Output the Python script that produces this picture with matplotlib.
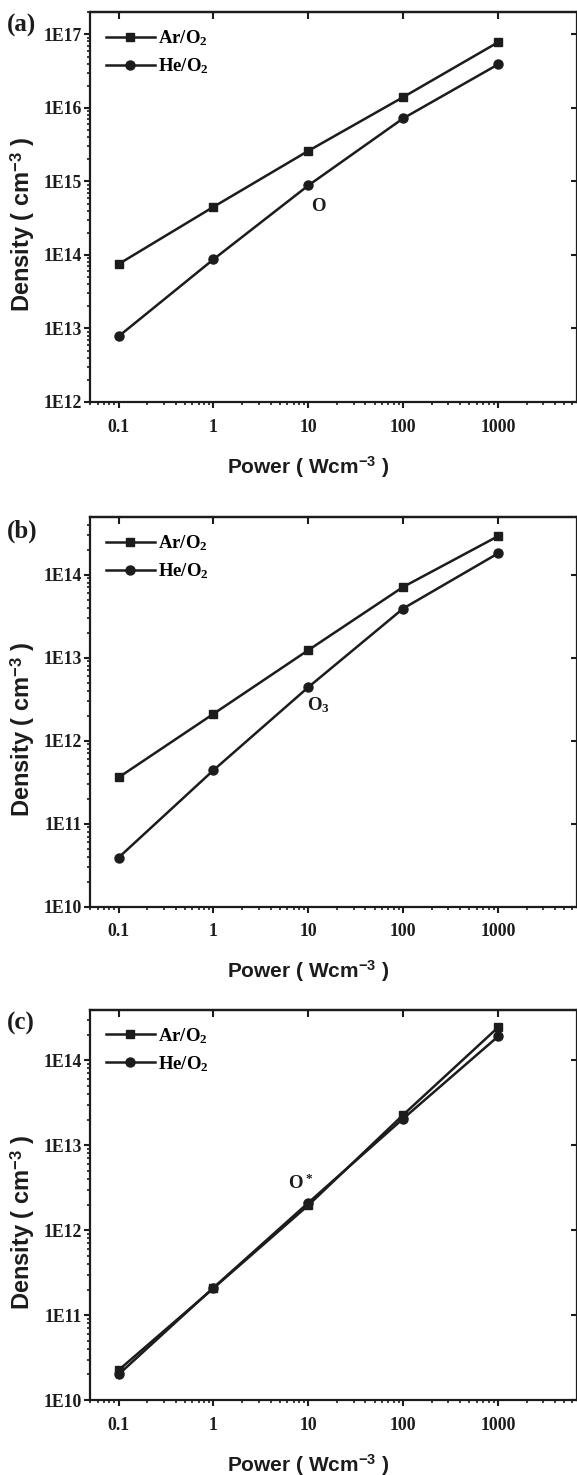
import math
import matplotlib.pyplot as plt
from matplotlib.ticker import LogLocator, NullLocator, FixedLocator, FuncFormatter, NullFormatter

plt.rcParams["mathtext.fontset"] = "custom"
plt.rcParams["mathtext.rm"] = "Liberation Serif:bold"
plt.rcParams["mathtext.sf"] = "Liberation Sans:bold"
plt.rcParams["mathtext.default"] = "rm"

# Power values (W cm^-3)
power = [0.1, 1, 10, 100, 1000]

# (a) O density
o_ar = [7.5e13, 4.5e14, 2.6e15, 1.4e16, 7.8e16]
o_he = [7.8e12, 8.7e13, 8.8e14, 7.2e15, 3.9e16]

# (b) O3 density
o3_ar = [3.6e11, 2.1e12, 1.23e13, 7.1e13, 2.9e14]
o3_he = [3.9e10, 4.4e11, 4.4e12, 3.9e13, 1.8e14]

# (c) O* density
os_ar = [2.25e10, 2.07e11, 1.96e12, 2.27e13, 2.43e14]
os_he = [2.0e10, 2.1e11, 2.1e12, 2.05e13, 1.9e14]

panels = [
    ("(a)", o_ar, o_he, (1e12, 2e17), "O", (12.9, 4.5e14)),
    ("(b)", o3_ar, o3_he, (1e10, 4.9e14), "O$_3$", (12.7, 2.7e12)),
    ("(c)", os_ar, os_he, (1e10, 3.9e14), "O$^*$", (8.4, 3.6e12)),
]

# axes boxes in figure fraction: [left, bottom, width, height]
boxes = [
    [0.156, 0.7275, 0.844, 0.2642],
    [0.156, 0.3853, 0.844, 0.2640],
    [0.156, 0.0508, 0.844, 0.2645],
]

serif = "Liberation Serif"
sans = "Liberation Sans"
ink = "#1c1c1c"

fig = plt.figure(figsize=(5.77, 14.75), dpi=100)


def exp_fmt(v, pos):
    return "1E%d" % int(round(math.log10(v)))


def x_fmt(v, pos):
    return "%g" % v


for (tag, ar, he, ylim, species, spos), box in zip(panels, boxes):
    ax = fig.add_axes(box)
    ax.plot(power, ar, "-s", color=ink, lw=1.8, ms=6, label="Ar/O$_2$")
    ax.plot(power, he, "-o", color=ink, lw=1.8, ms=6.5, label="He/O$_2$")
    ax.set_xscale("log")
    ax.set_yscale("log")
    ax.set_xlim(0.05, 6800)
    ax.set_ylim(*ylim)

    ax.xaxis.set_major_locator(FixedLocator(power))
    ax.xaxis.set_minor_locator(LogLocator(base=10, subs=range(2, 10), numticks=20))
    ax.xaxis.set_major_formatter(FuncFormatter(x_fmt))
    ax.xaxis.set_minor_formatter(NullFormatter())
    ax.yaxis.set_major_locator(LogLocator(base=10, numticks=20))
    ax.yaxis.set_minor_locator(LogLocator(base=10, subs=range(2, 10), numticks=20))
    ax.yaxis.set_major_formatter(FuncFormatter(exp_fmt))
    ax.yaxis.set_minor_formatter(NullFormatter())

    ax.tick_params(which="major", direction="out", length=4, width=1.5, labelsize=12.8,
                   labelfontfamily=serif, colors=ink)
    ax.tick_params(axis="y", which="major", pad=1.5)
    ax.tick_params(axis="x", which="major", pad=8)
    ax.tick_params(which="minor", direction="out", length=2.5, width=1.2, colors=ink)
    for lab in ax.get_xticklabels() + ax.get_yticklabels():
        lab.set_fontweight("bold")
    for sp in ax.spines.values():
        sp.set_linewidth(1.6)
        sp.set_color(ink)

    # top and right: major ticks only, pointing inward
    top = ax.secondary_xaxis("top")
    top.xaxis.set_major_locator(FixedLocator(power))
    top.xaxis.set_minor_locator(NullLocator())
    top.tick_params(direction="in", length=5, width=1.5, labeltop=False, colors=ink)
    top.spines["top"].set_linewidth(1.6)
    right = ax.secondary_yaxis("right")
    right.yaxis.set_major_locator(LogLocator(base=10, numticks=20))
    right.yaxis.set_minor_locator(NullLocator())
    right.tick_params(direction="in", length=4, width=1.5, labelright=False, colors=ink)

    ax.set_xlabel(r"Power ( Wcm$^{\mathsf{-3}}$ )", fontfamily=sans, fontweight="bold",
                  fontsize=15, va="center", color=ink)
    ax.xaxis.set_label_coords(0.448, -0.167)
    ax.set_ylabel(r"Density ( cm$^{\mathsf{-3}}$ )", fontfamily=sans, fontweight="bold",
                  fontsize=17, va="center", color=ink)
    ax.yaxis.set_label_coords(-0.138, 0.455)

    ax.legend(loc="upper left", frameon=False, handlelength=2.6,
              handletextpad=0.2, labelspacing=0.45, borderaxespad=0.45,
              prop={"family": serif, "weight": "bold", "size": 13.5})

    ax.text(spos[0], spos[1], species, fontfamily=serif, fontweight="bold",
            fontsize=13.5, ha="center", va="center", color=ink)
    ax.text(-0.17, 0.965, tag, transform=ax.transAxes, fontfamily=serif,
            fontweight="bold", fontsize=18, ha="left", va="center", color=ink)

fig.savefig("out.png", dpi=100)
